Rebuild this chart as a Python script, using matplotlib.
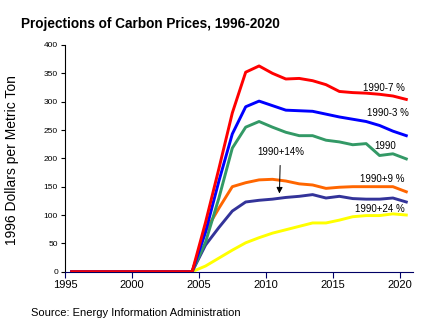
import matplotlib
matplotlib.use("Agg")
import matplotlib.pyplot as plt

plt.rcParams['font.family'] = ['Liberation Sans', 'DejaVu Sans']

years = list(range(1995, 2021))
pre = [0] * 10  # 1995-2004
# values 2005-2020
red = pre + [87, 182, 280, 352, 363, 350, 340, 341, 337, 330, 318, 316, 315, 313, 310, 304]
blue = pre + [70, 160, 243, 291, 301, 293, 285, 284, 283, 278, 273, 269, 265, 258, 248, 240]
green = pre + [52, 130, 218, 255, 265, 255, 246, 240, 240, 232, 229, 224, 226, 205, 208, 199]
orange = pre + [72, 112, 150, 157, 162, 163, 160, 155, 153, 147, 149, 150, 150, 150, 150, 141]
navy = pre + [47, 78, 107, 123, 126, 128, 131, 133, 136, 130, 133, 129, 128, 128, 130, 123]
yellow = pre + [10, 24, 38, 51, 60, 68, 74, 80, 86, 86, 91, 97, 99, 99, 102, 100]

series_labels = ["1990-7 %", "1990-3 %", "1990", "1990+9 %", "1990+14%", "1990+24 %"]
xtick_labels = ["1995", "2000", "2005", "2010", "2015", "2020"]
yticks = [0, 50, 100, 150, 200, 250, 300, 350, 400]

fig = plt.figure(figsize=(4.31, 3.33), dpi=100)
ax = fig.add_axes([0.1508, 0.1841, 0.8074, 0.6808])

lw = 2.1
ax.plot(years, yellow, color="#FFFF00", lw=lw)
ax.plot(years, navy, color="#333399", lw=lw)
ax.plot(years, orange, color="#FF6600", lw=lw)
ax.plot(years, green, color="#339966", lw=lw)
ax.plot(years, blue, color="#0000FF", lw=lw)
ax.plot(years, red, color="#FF0000", lw=lw)

ax.set_xlim(1994.5, 2020.5)
ax.set_ylim(0, 400)
ax.set_yticks(yticks)
ax.set_yticklabels([str(v) for v in yticks], fontsize=6)
ax.set_xticks([1994.5 + 5 * i for i in range(6)])
ax.set_xticklabels(xtick_labels, fontsize=8)
ax.tick_params(axis='y', direction='out', length=3, width=0.8, pad=2, colors='black')
ax.tick_params(axis='x', direction='out', length=4, width=0.8, pad=2, color='#000066', labelcolor='black')
for s in ['top', 'right']:
    ax.spines[s].set_visible(False)
ax.spines['left'].set_color('black')
ax.spines['left'].set_linewidth(0.8)
ax.spines['bottom'].set_color('#000066')
ax.spines['bottom'].set_linewidth(0.8)

fs = 7
ax.text(2018.34, 324, series_labels[0], fontsize=fs, ha='center', va='center')
ax.text(2018.64, 280, series_labels[1], fontsize=fs, ha='center', va='center')
ax.text(2018.42, 222, series_labels[2], fontsize=fs, ha='center', va='center')
ax.text(2018.2, 164, series_labels[3], fontsize=fs, ha='center', va='center')
ax.text(2018.04, 111, series_labels[5], fontsize=fs, ha='center', va='center')
ax.annotate(series_labels[4], xy=(2010.52, 138), xytext=(2010.6, 211),
            fontsize=fs, ha='center', va='center',
            arrowprops=dict(arrowstyle='-|>', color='black', lw=0.7,
                            mutation_scale=9, shrinkA=4, shrinkB=0))

fig.text(0.048, 0.929, "Projections of Carbon Prices, 1996-2020", fontsize=9.8,
         fontweight='bold', ha='left', va='center')
fig.text(0.028, 0.52, "1996 Dollars per Metric Ton", fontsize=10, rotation=90,
         ha='center', va='center')
fig.text(0.071, 0.06, "Source: Energy Information Administration", fontsize=8,
         ha='left', va='center')

fig.savefig("out.png", dpi=100)
